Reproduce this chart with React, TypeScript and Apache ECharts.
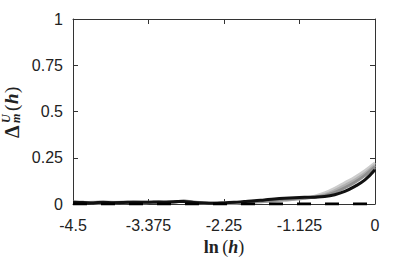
import React, { useEffect, useRef } from "react";
import * as echarts from "echarts";

const xs = [-4.5, -4.35, -4.2, -4.05, -3.9, -3.75, -3.6, -3.45, -3.3, -3.15, -3.0, -2.85, -2.7, -2.55, -2.4, -2.25, -2.1, -1.95, -1.8, -1.65, -1.5, -1.35, -1.2, -1.05, -0.9, -0.75, -0.6, -0.45, -0.3, -0.15, 0];

const black = [0.010, 0.008, 0.006, 0.009, 0.007, 0.008, 0.010, 0.009, 0.011, 0.010, 0.012, 0.014, 0.008, 0.005, 0.004, 0.006, 0.009, 0.013, 0.017, 0.022, 0.027, 0.031, 0.034, 0.036, 0.037, 0.040, 0.050, 0.068, 0.095, 0.130, 0.185];
const grayLight = [0.008, 0.010, 0.007, 0.006, 0.009, 0.011, 0.008, 0.007, 0.010, 0.012, 0.009, 0.018, 0.010, 0.006, 0.004, 0.005, 0.006, 0.008, 0.010, 0.013, 0.016, 0.020, 0.025, 0.032, 0.042, 0.060, 0.085, 0.115, 0.145, 0.180, 0.222];
const grayMid = [0.009, 0.007, 0.010, 0.008, 0.006, 0.009, 0.011, 0.008, 0.009, 0.011, 0.010, 0.016, 0.009, 0.005, 0.003, 0.004, 0.006, 0.008, 0.011, 0.014, 0.018, 0.022, 0.026, 0.031, 0.038, 0.050, 0.072, 0.100, 0.130, 0.165, 0.210];
const grayDark = [0.011, 0.009, 0.008, 0.010, 0.008, 0.007, 0.009, 0.010, 0.008, 0.010, 0.011, 0.015, 0.010, 0.006, 0.004, 0.005, 0.007, 0.009, 0.012, 0.016, 0.020, 0.025, 0.029, 0.033, 0.038, 0.045, 0.063, 0.088, 0.118, 0.155, 0.200];
const zeroLine = [0, 0];
const xTicks = [-4.5, -3.375, -2.25, -1.125, 0];
const yTicks = [0, 0.25, 0.5, 0.75, 1];

const pair = (v: number[]) => xs.map((x, i) => [x, v[i]]);

export default function App() {
  const ref = useRef<HTMLDivElement>(null);
  useEffect(() => {
    document.body.style.margin = "0";
    if (!ref.current) return;
    const chart = echarts.init(ref.current, null, { renderer: "svg" });
    const axisCol = "#333";
    const labelFont = { fontFamily: "Liberation Sans", fontSize: 16, color: "#222" };
    const serif = "Liberation Serif";
    chart.setOption({
      animation: false,
      grid: { left: 73, right: 40, top: 19, bottom: 53, show: false, outerBoundsMode: "none", containLabel: false },
      xAxis: [
        {
          type: "value", min: xTicks[0], max: xTicks[xTicks.length - 1], interval: 1.125,
          axisLine: { show: true, onZero: false, lineStyle: { color: axisCol, width: 1 } },
          axisTick: { show: true, inside: true, length: 5, lineStyle: { color: axisCol } },
          splitLine: { show: false },
          axisLabel: { ...labelFont, margin: 13, formatter: (v: number) => String(v) },
          name: "{t|ln} {p|(}{i|h}{p|)}",
          nameLocation: "middle",
          nameGap: 29,
          nameTextStyle: {
            rich: {
              t: { fontFamily: serif, fontWeight: "bold", fontSize: 18, color: "#222" },
              p: { fontFamily: serif, fontSize: 18, color: "#222" },
              i: { fontFamily: serif, fontWeight: "bold", fontStyle: "italic", fontSize: 18, color: "#222" },
            },
          },
        },
        {
          type: "value", position: "top", min: xTicks[0], max: 0, interval: 1.125,
          axisLine: { show: true, onZero: false, lineStyle: { color: axisCol } },
          axisTick: { show: true, inside: true, length: 5, lineStyle: { color: axisCol } },
          axisLabel: { show: false }, splitLine: { show: false },
        },
      ],
      yAxis: [
        {
          type: "value", min: yTicks[0], max: yTicks[yTicks.length - 1], interval: 0.25,
          axisLine: { show: true, onZero: false, lineStyle: { color: axisCol, width: 1 } },
          axisTick: { show: true, inside: true, length: 5, lineStyle: { color: axisCol } },
          splitLine: { show: false },
          axisLabel: { ...labelFont, margin: 10, formatter: (v: number) => String(v) },
        },
        {
          type: "value", position: "right", min: 0, max: 1, interval: 0.25,
          axisLine: { show: true, onZero: false, lineStyle: { color: axisCol } },
          axisTick: { show: true, inside: true, length: 5, lineStyle: { color: axisCol } },
          axisLabel: { show: false }, splitLine: { show: false },
        },
      ],
      graphic: [
        {
          type: "group",
          x: 12,
          y: 110,
          rotation: Math.PI / 2,
          children: [
            { type: "text", x: -28, y: 0, style: { text: "Δ", fontFamily: serif, fontWeight: "bold", fontSize: 20, fill: "#222", verticalAlign: "middle", align: "left" } },
            { type: "text", x: -13, y: 4, style: { text: "m", fontFamily: serif, fontWeight: "bold", fontStyle: "italic", fontSize: 12, fill: "#222", verticalAlign: "middle", align: "left" } },
            { type: "text", x: -13, y: -6, style: { text: "U", fontFamily: serif, fontWeight: "bold", fontStyle: "italic", fontSize: 12, fill: "#222", verticalAlign: "middle", align: "left" } },
            { type: "text", x: -1, y: -1, style: { text: "(", fontFamily: serif, fontSize: 19, fill: "#222", verticalAlign: "middle", align: "left" } },
            { type: "text", x: 6, y: -1, style: { text: "h", fontFamily: serif, fontWeight: "bold", fontStyle: "italic", fontSize: 19, fill: "#222", verticalAlign: "middle", align: "left" } },
            { type: "text", x: 17, y: -1, style: { text: ")", fontFamily: serif, fontSize: 19, fill: "#222", verticalAlign: "middle", align: "left" } },
          ],
        },
      ],
      series: [
        { type: "line", data: pair(grayLight), showSymbol: false, smooth: 0.4, lineStyle: { color: "#cdcdcd", width: 3 } },
        { type: "line", data: pair(grayMid), showSymbol: false, smooth: 0.4, lineStyle: { color: "#b0b0b0", width: 3 } },
        { type: "line", data: pair(grayDark), showSymbol: false, smooth: 0.4, lineStyle: { color: "#8f8f8f", width: 3 } },
        { type: "line", data: pair(black), showSymbol: false, smooth: 0.4, lineStyle: { color: "#111", width: 3 } },
        { type: "line", data: [[xTicks[0], zeroLine[0]], [0, zeroLine[1]]], showSymbol: false, lineStyle: { color: "#000", width: 3, type: [14, 14] } },
      ],
    });
    return () => chart.dispose();
  }, []);
  return <div ref={ref} style={{ width: 415, height: 257 }} />;
}
